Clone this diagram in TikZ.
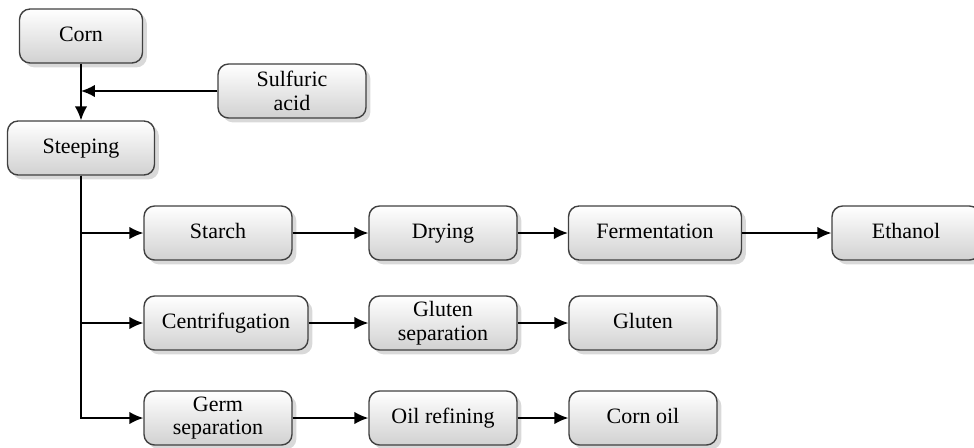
\documentclass[tikz,border=0pt]{standalone}
\usepackage{fontspec}
\setmainfont{Liberation Serif}
\usepackage{tikz}
\usetikzlibrary{arrows.meta, shadows}

\tikzset{
    procbox/.style={rectangle, rounded corners=6pt, draw=black!75, line width=0.8pt,
        top color=white, bottom color=black!18,
        drop shadow={shadow xshift=2.5pt, shadow yshift=-2.5pt, opacity=0.3},
        minimum width=2.96cm, minimum height=1.08cm, align=center,
        font=\fontsize{12.5}{13.5}\selectfont, inner sep=2pt},
    oneline/.style={text height=1.9ex, text depth=0.5ex},
    flow/.style={line width=0.9pt, -{Latex[length=2.8mm,width=2.5mm]}}
}

\begin{document}
\begin{tikzpicture}[x=0.02cm, y=-0.02cm]
    \useasboundingbox (0,0) rectangle (974,447);

    % inputs
    \node[procbox, oneline, minimum width=2.46cm] (corn) at (81,36) {Corn};
    \node[procbox] (acid) at (292,91) {Sulfuric\\acid};
    \node[procbox, oneline, minimum width=2.94cm] (steep) at (81,148) {Steeping};
    \coordinate (join) at (81,91);

    % starch line
    \node[procbox, oneline] (starch) at (218,233) {Starch};
    \node[procbox, oneline] (dry) at (443,233) {Drying};
    \node[procbox, oneline, minimum width=3.46cm] (ferm) at (655,233) {Fermentation};
    \node[procbox, oneline] (etoh) at (906,233) {Ethanol};

    % gluten line
    \node[procbox, oneline, minimum width=3.28cm] (centr) at (226,323) {Centrifugation};
    \node[procbox] (glusep) at (443,323) {Gluten\\separation};
    \node[procbox, oneline] (gluten) at (643,323) {Gluten};

    % oil line
    \node[procbox] (germ) at (218,418) {Germ\\separation};
    \node[procbox, oneline] (oilref) at (443,418) {Oil refining};
    \node[procbox, oneline] (cornoil) at (643,418) {Corn oil};

    \draw[flow] (corn) -- (steep);
    \draw[flow] (acid) -- (join);

    \draw[flow] (steep.south) |- (starch.west);
    \draw[flow] (steep.south) |- (centr.west);
    \draw[flow] (steep.south) |- (germ.west);

    \draw[flow] (starch) -- (dry);
    \draw[flow] (dry) -- (ferm);
    \draw[flow] (ferm) -- (etoh);
    \draw[flow] (centr) -- (glusep);
    \draw[flow] (glusep) -- (gluten);
    \draw[flow] (germ) -- (oilref);
    \draw[flow] (oilref) -- (cornoil);
\end{tikzpicture}
\end{document}
